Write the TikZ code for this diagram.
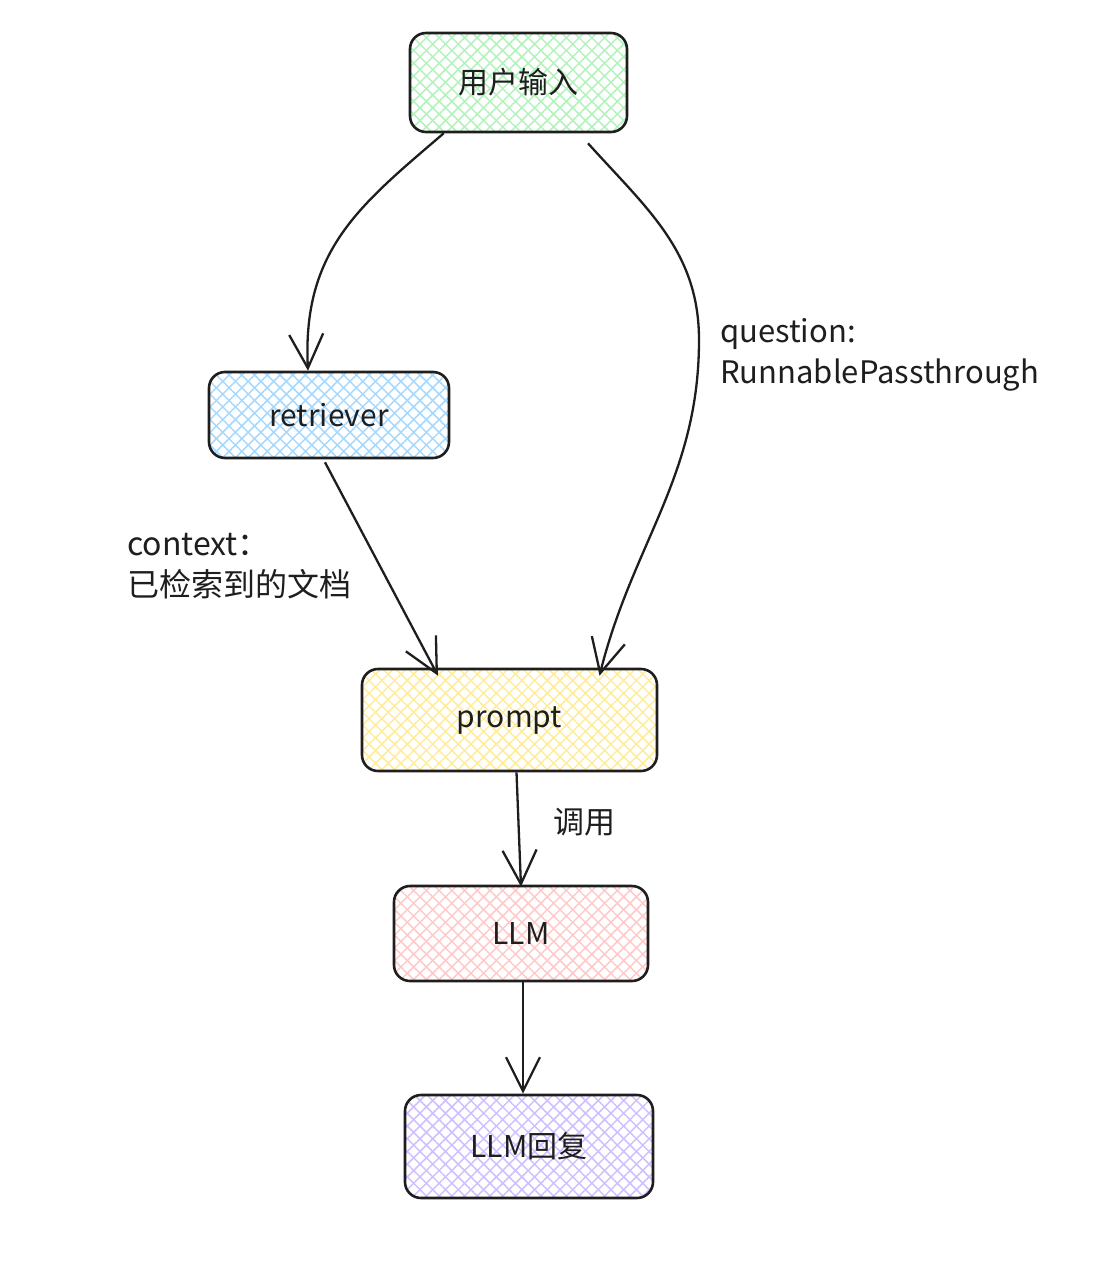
\documentclass[tikz,border=0pt]{standalone}
\usepackage{fontspec}
\setmainfont{Noto Sans CJK SC}
\usetikzlibrary{arrows.meta,patterns.meta}
\definecolor{ink}{HTML}{1E1E1E}
\definecolor{cgreen}{HTML}{B2F2BB}
\definecolor{cblue}{HTML}{A5D8FF}
\definecolor{cyellow}{HTML}{FFEC99}
\definecolor{cred}{HTML}{FFC9C9}
\definecolor{cpurple}{HTML}{D0BFFF}
\tikzset{
  box/.style={draw=ink, line width=2.6pt, rounded corners=16pt, text=ink,
    font=\fontsize{30}{36}\selectfont, inner sep=0pt,
    preaction={pattern={Lines[angle=45,distance=9pt,line width=1.5pt]}, pattern color=#1},
    preaction={pattern={Lines[angle=-45,distance=9pt,line width=1.5pt]}, pattern color=#1}},
  flow/.style={draw=ink, line width=2.3pt, -{Straight Barb[length=34pt,width=34pt,line width=2.3pt]}},
  lbl/.style={text=ink, font=\fontsize{31}{41}\selectfont, align=left, inner sep=0pt}
}
\begin{document}
\begin{tikzpicture}[x=1pt,y=-1pt]
\useasboundingbox (0,0) rectangle (1100,1266);
\node[box=cgreen, minimum width=217pt, minimum height=99pt] (user) at (518.5,82.5) {用户输入};
\node[box=cblue, minimum width=240pt, minimum height=86pt] (ret) at (329,415) {retriever};
\node[box=cyellow, minimum width=295pt, minimum height=102pt] (prompt) at (509.5,720) {prompt};
\node[box=cred, minimum width=254pt, minimum height=95pt] (llm) at (521,933.5) {LLM};
\node[box=cpurple, minimum width=248pt, minimum height=103pt] (reply) at (529,1146.5) {LLM回复};

\draw[flow] ([xshift=35pt]user.south west) .. controls (360,205) and (302,250) .. ([xshift=-21pt]ret.north);
\draw[flow] ([xshift=69.5pt,yshift=-10pt]user.south) to[out=-48,in=90] (699,340) to[out=-90,in=76] ([xshift=90pt,yshift=-8pt]prompt.north);
\draw[flow] ([xshift=-4pt,yshift=-3pt]ret.south) -- ([xshift=-71.5pt,yshift=-8pt]prompt.north);
\draw[flow] ([xshift=7pt]prompt.south) -- ([yshift=-2pt]llm.north);
\draw[flow] ([xshift=2pt]llm.south) -- ([xshift=-6pt]reply.north);

\node[lbl, anchor=north west] (q) at (720,318) {question:\\RunnablePassthrough};
\node[lbl, anchor=north west, font=\fontsize{32}{41}\selectfont] (c) at (127,533) {context：\\已检索到的文档};
\node[lbl, anchor=west] (call) at (553,822) {调用};
\end{tikzpicture}
\end{document}
